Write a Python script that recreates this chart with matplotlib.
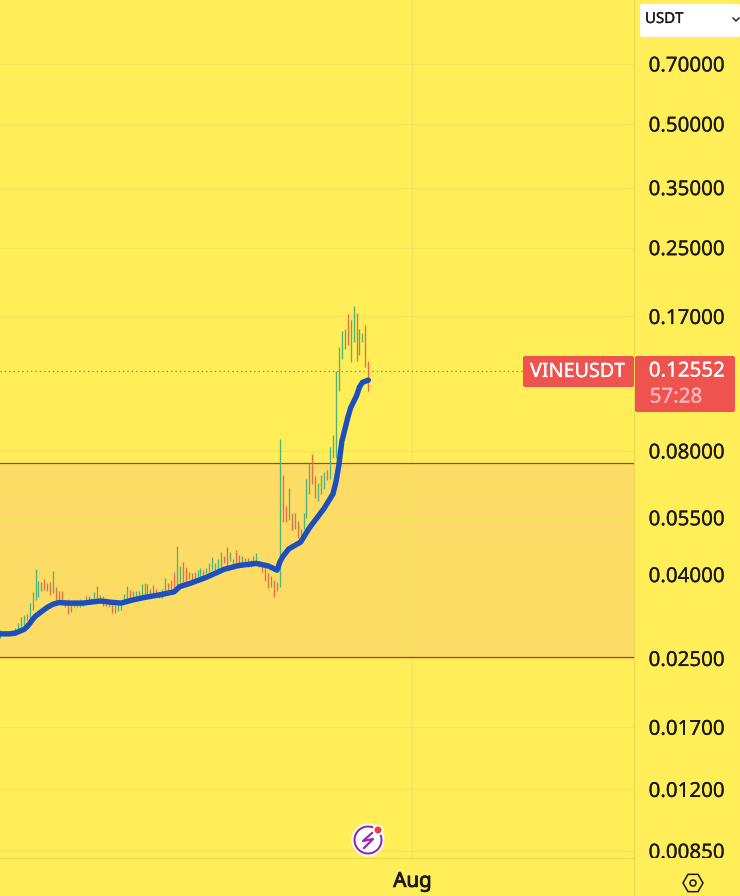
import matplotlib
matplotlib.use("Agg")
import matplotlib.pyplot as plt
import matplotlib.patheffects as pe
from matplotlib.patches import FancyBboxPatch, Circle, RegularPolygon
from matplotlib.ticker import NullLocator
from matplotlib.transforms import Bbox

plt.rcParams['font.family'] = ['Noto Sans', 'DejaVu Sans']

BG = '#FFEE58'
GRID = '#F6E35C'
SEP = '#EBD94F'
BAND = '#FDDC66'
UP = '#4FB27A'
DOWN = '#EE6A45'
BADGE = '#EF5350'
TXT = '#1A1A1A'

highs = [.0293,.0290,.0290,.0290,.0293,.0296,.0305,.0316,.0319,.0321,.0341,.0363,.0412,.0387,.0384,.0390,
         .0382,.0384,.0408,.0374,.0364,.0364,.0347,.0348,.0341,.0344,.0342,.0348,.0347,.0355,.0355,.0350,
         .0363,.0376,.0357,.0355,.0350,.0347,.0341,.0337,.0341,.0337,.0358,.0376,.0367,.0365,.0365,.0365,
         .0380,.0382,.0380,.0370,.0377,.0370,.0363,.0370,.0392,.0382,.0388,.0407,.0470,.0420,.0430,.0417,
         .0405,.0403,.0407,.0410,.0415,.0411,.0416,.0428,.0441,.0426,.0436,.0453,.0444,.0467,.0453,.0436,
         .0460,.0447,.0444,.0438,.0438,.0433,.0444,.0451,.0431,.0422,.0418,.0403,.0396,.0388,.0384,.0856,
         .0698,.0589,.0650,.0565,.0565,.0541,.0518,.0565,.0682,.0753,.0785,.0695,.0670,.0700,.0712,.0718,
         .0820,.0873,.1249,.1435,.1569,.1586,.1726,.1663,.1804,.1730,.1586,.1553,.1622,.1328]
lows = [.0280,.0285,.0285,.0285,.0285,.0285,.0288,.0299,.0302,.0311,.0312,.0328,.0347,.0352,.0365,.0367,
        .0365,.0356,.0360,.0344,.0344,.0341,.0334,.0321,.0325,.0334,.0333,.0333,.0336,.0339,.0341,.0339,
        .0341,.0344,.0341,.0336,.0336,.0333,.0322,.0323,.0327,.0328,.0341,.0344,.0347,.0350,.0352,.0355,
        .0357,.0353,.0350,.0357,.0355,.0352,.0350,.0350,.0357,.0363,.0363,.0367,.0370,.0374,.0384,.0381,
        .0390,.0384,.0388,.0394,.0394,.0396,.0403,.0407,.0411,.0411,.0412,.0418,.0426,.0415,.0431,.0418,
        .0426,.0415,.0418,.0422,.0418,.0418,.0426,.0422,.0418,.0407,.0387,.0372,.0374,.0353,.0365,.0374,
        .0536,.0536,.0543,.0514,.0516,.0492,.0499,.0516,.0550,.0629,.0665,.0613,.0606,.0629,.0647,.0678,
        .0684,.0767,.0767,.1119,.1341,.1414,.1450,.1318,.1473,.1323,.1373,.1473,.1278,.1120]
direction = ("gggggggggr" "gggggrgrgr" "rrgrggrggr" "grgrgrrrrg" "ggggrggrgg" "rgrrrggrrr"
             "ggrrrrgggr" "ggggggrrgg" "rrgrrgggrr" "rrgrgg" "rrgrgrgggg" "rrgggrgggg" "ggrggrggrr")

ma_idx = [0,3,5,7,8,9,10,11,12,13,14,15,16,17,18,20,23,28,34,37,41,45,49,54,59,61,65,70,76,81,87,91,94,95,96,98,
          102,105,110,113,114,115,116,118,119,121,122,123,125]
ma_val = [.0287,.0287,.0288,.0292,.0294,.0298,.0304,.0311,.0317,.0321,.0325,.0329,.0333,.0336,.0339,.0342,
          .0341,.0341,.0345,.0343,.0341,.0347,.0352,.0357,.0363,.0374,.0382,.0394,.0412,.0421,.0426,.0420,
          .0410,.0430,.0443,.0462,.0480,.0520,.0580,.0629,.0672,.0739,.0843,.0963,.1019,.1090,.1145,.1175,.1190]

tick_prices = [0.70, 0.50, 0.35, 0.25, 0.17, 0.08, 0.055, 0.04, 0.025, 0.017, 0.012, 0.0085]
zone_top = 0.0748
zone_bottom = 0.02523
last_price = 0.12552
aug_idx = 140
symbol = "VINEUSDT"
countdown = "57:28"
currency = "USDT"

W, H = 740, 896
fig = plt.figure(figsize=(W/100, H/100), dpi=100, facecolor=BG)
ax = fig.add_axes([0, 38/H, 634/W, 858/H], facecolor=BG)
ax.set_yscale('log')
ax.set_ylim(0.00817, 1.002)
ax.set_xlim(-0.2/2.945, (634-0.2)/2.945)


def heavy(width, color):
    return [pe.withStroke(linewidth=width, foreground=color)]


ax.yaxis.tick_right()
ax.set_yticks(tick_prices)
ax.set_yticklabels([f"{p:.5f}" for p in tick_prices])
ax.yaxis.set_minor_locator(NullLocator())
ax.set_xticks([aug_idx])
ax.set_xticklabels(["Aug"])
ax.tick_params(axis='y', length=0, pad=10.5, labelsize=14.8, labelcolor=TXT)
ax.tick_params(axis='x', length=0, pad=10, labelsize=14.8, labelcolor=TXT)
for lab in ax.get_xticklabels():
    lab.set_path_effects(heavy(0.6, TXT))
clip = Bbox([[634, 38], [W, H]])
for lab in ax.get_yticklabels():
    lab.set_path_effects(heavy(0.15, TXT))
    lab.set_clip_on(True)
    lab.set_clip_box(clip)
ax.grid(True, color=GRID, lw=1.0, zorder=2)
ax.set_axisbelow(False)
for s in ['left', 'top']:
    ax.spines[s].set_visible(False)
for s in ['right', 'bottom']:
    ax.spines[s].set_color(SEP)
    ax.spines[s].set_linewidth(1.0)

ax.axhspan(zone_bottom, zone_top, color=BAND, lw=0, zorder=1)
ax.axhline(zone_top, color='#C9302C', lw=0.9, zorder=3)
ax.axhline(zone_bottom, color='#C9302C', lw=0.9, zorder=3)
ax.axhline(last_price, color=BADGE, lw=0.9, ls=(0, (1, 2.5)), zorder=3)

for i, (hi, lo, c) in enumerate(zip(highs, lows, direction)):
    ax.vlines(i, lo, hi, color=UP if c == 'g' else DOWN, lw=0.95, zorder=4)

ax.plot(ma_idx, ma_val, color='#1B4FBE', lw=3.9, solid_joinstyle='round', solid_capstyle='round', zorder=5)

ov = fig.add_axes([0, 0, 1, 1], facecolor='none')
ov.set_xlim(0, W)
ov.set_ylim(H, 0)
ov.axis('off')
ov.plot([634, 634], [858, H], color=SEP, lw=1.0)


def badge(x0, y0, x1, y1, color):
    ov.add_patch(FancyBboxPatch((x0+2, y0+2), x1-x0-4, y1-y0-4, boxstyle='round,pad=2,rounding_size=2',
                                fc=color, ec='none', zorder=6))


badge(523, 356, 634, 387, BADGE)
badge(635, 356, 735, 412, BADGE)
ov.text(577.5, 372, symbol, color='white', fontsize=14.2, ha='center', va='center', zorder=7,
        path_effects=heavy(0.2, 'white'))
ov.text(687, 371.5, f"{last_price:.5f}", color='white', fontsize=14.8, ha='center', va='center', zorder=7,
        path_effects=heavy(0.2, 'white'))
ov.text(676, 397.5, countdown, color='#FDB5B5', fontsize=14.8, ha='center', va='center', zorder=7,
        path_effects=heavy(0.2, '#FDB5B5'))

badge(640, 4, 740, 37, 'white')
ov.text(645, 19.5, currency, color=TXT, fontsize=10.8, ha='left', va='center', zorder=7,
        path_effects=heavy(0.2, TXT))
ov.plot([733, 736, 739], [18, 21, 18], color=TXT, lw=1.0, zorder=7)

ov.add_patch(Circle((368, 840), 16.5, fc='white', ec='none', zorder=6))
ov.add_patch(Circle((368, 840), 13.5, fc='white', ec='#8E2DB0', lw=1.5, zorder=7))
ov.plot([372, 363, 373, 364], [833, 841, 839, 848], color='#8E2DB0', lw=1.6, zorder=8)
ov.add_patch(Circle((378, 830), 5.5, fc='white', ec='none', zorder=8))
ov.add_patch(Circle((378, 830), 3.5, fc='#EF3E42', ec='none', zorder=9))

ov.add_patch(RegularPolygon((693, 883), 6, radius=10, orientation=3.14159/2, fc='none', ec=TXT, lw=1.1, zorder=7))
ov.add_patch(Circle((693, 883), 3, fc='none', ec=TXT, lw=1.1, zorder=7))

fig.savefig('out.png', dpi=100, facecolor=BG)
